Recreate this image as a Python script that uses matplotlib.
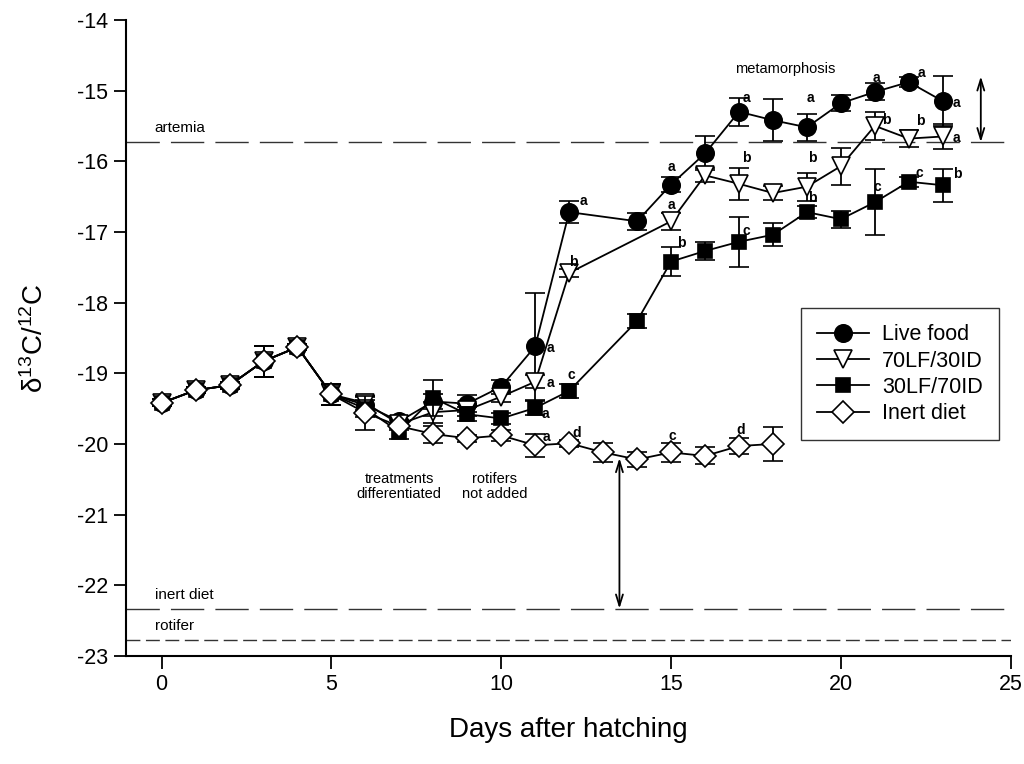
import matplotlib
matplotlib.use("Agg")
import matplotlib.pyplot as plt
from matplotlib.lines import Line2D

plt.rcParams['font.family'] = ['Liberation Sans', 'DejaVu Sans']
plt.rcParams['mathtext.fontset'] = 'custom'
plt.rcParams['mathtext.rm'] = 'Liberation Sans'
plt.rcParams['mathtext.it'] = 'Liberation Sans'
plt.rcParams['axes.unicode_minus'] = False

# ---- data ----
common_days = [0, 1, 2, 3, 4, 5]
common_vals = [-19.42, -19.24, -19.17, -18.83, -18.63, -19.30]
common_err = [0.05, 0.04, 0.05, 0.22, 0.04, 0.15]

live_days = [6, 7, 8, 9, 10, 11, 12, 14, 15, 16, 17, 18, 19, 20, 21, 22, 23]
live_vals = [-19.45, -19.68, -19.40, -19.43, -19.19, -18.62, -16.72, -16.85, -16.33,
             -15.89, -15.30, -15.42, -15.52, -15.18, -15.02, -14.88, -15.15]
live_err = [0.12, 0.08, 0.10, 0.12, 0.10, 0.76, 0.16, 0.12, 0.10,
            0.24, 0.20, 0.30, 0.19, 0.11, 0.12, 0.07, 0.35]

lf70_days = [6, 7, 8, 9, 10, 11, 12, 15, 16, 17, 18, 19, 20, 21, 22, 23]
lf70_vals = [-19.42, -19.72, -19.55, -19.52, -19.33, -19.12, -17.58, -16.85, -16.20,
             -16.32, -16.45, -16.36, -16.07, -15.50, -15.68, -15.65]
lf70_err = [0.10, 0.06, 0.15, 0.08, 0.08, 0.09, 0.06, 0.12, 0.10,
            0.23, 0.10, 0.20, 0.26, 0.20, 0.12, 0.18]

lf30_days = [6, 7, 8, 9, 10, 11, 12, 14, 15, 16, 17, 18, 19, 20, 21, 22, 23]
lf30_vals = [-19.50, -19.83, -19.35, -19.58, -19.64, -19.49, -19.25, -18.26, -17.42,
             -17.27, -17.14, -17.04, -16.72, -16.82, -16.58, -16.29, -16.34]
lf30_err = [0.12, 0.10, 0.25, 0.10, 0.08, 0.10, 0.10, 0.10, 0.21,
            0.13, 0.35, 0.16, 0.08, 0.12, 0.47, 0.07, 0.23]

inert_days = [6, 7, 8, 9, 10, 11, 12, 13, 14, 15, 16, 17, 18]
inert_vals = [-19.56, -19.75, -19.86, -19.92, -19.88, -20.02, -19.99, -20.12, -20.22,
              -20.12, -20.17, -20.03, -20.00]
inert_err = [0.24, 0.05, 0.12, 0.05, 0.08, 0.16, 0.05, 0.13, 0.11,
             0.13, 0.12, 0.11, 0.24]

series_names = ['Live food', '70LF/30ID', '30LF/70ID', 'Inert diet']

ref_names = ['artemia', 'inert diet', 'rotifer']
ref_vals = [-15.73, -22.33, -22.78]

letters = ['a', 'b', 'a', 'a', 'a', 'c', 'a', 'd', 'a', 'a', 'b', 'b', 'a', 'c',
           'a', 'b', 'b', 'a', 'b', 'c', 'a', 'b', 'c', 'a', 'a', 'b', 'c', 'd']
letter_x = [12.43, 12.13, 11.46, 11.46, 11.31, 12.07, 11.34, 12.22, 15.01, 15.01, 15.31,
            17.22, 17.22, 17.22, 19.10, 19.15, 19.15, 21.06, 21.33, 21.06, 22.36, 22.33,
            22.30, 23.41, 23.41, 23.44, 15.04, 17.04]
letter_y = [-16.56, -17.42, -18.64, -19.14, -19.58, -19.02, -19.90, -19.84, -16.08, -16.62,
            -17.16, -15.95, -15.10, -16.99, -15.10, -15.95, -16.52, -14.82, -15.42, -16.36,
            -14.75, -15.43, -16.17, -15.17, -15.67, -16.18, -19.89, -19.80]

# ---- figure ----
fig = plt.figure(figsize=(10.24, 7.64), dpi=100)
ax = fig.add_axes([0.123, 0.1414, 0.864, 0.8326])

styles = [
    dict(marker='o', mfc='black', ms=12.5),
    dict(marker='v', mfc='white', ms=13),
    dict(marker='s', mfc='black', ms=10.5),
    dict(marker='D', mfc='white', ms=11.5),
]
all_days = [live_days, lf70_days, lf30_days, inert_days]
all_vals = [live_vals, lf70_vals, lf30_vals, inert_vals]
all_err = [live_err, lf70_err, lf30_err, inert_err]

handles = []
for i, (d, v, e, st, name) in enumerate(zip(all_days, all_vals, all_err, styles, series_names)):
    x = common_days + d
    y = common_vals + v
    err = common_err + e
    ax.errorbar(x, y, yerr=err, color='black', lw=1.3, elinewidth=1.3,
                capsize=7.5, capthick=1.3, mec='black', mew=1.2,
                zorder=3 + i, **st)
    handles.append(Line2D([], [], color='black', lw=1.3, mec='black', mew=1.2,
                          label=name, **st))

dash_styles = [(0, (24, 8)), (0, (24, 8)), (0, (10, 4))]
for name, val, ds in zip(ref_names, ref_vals, dash_styles):
    ax.axhline(val, color='#333333', lw=1.0, ls=ds, zorder=1)
    ax.text(-0.2, val + 0.1, name, fontsize=11, ha='left', va='bottom')

for t, x, y in zip(letters, letter_x, letter_y):
    ax.text(x, y, t, fontsize=10, fontweight='bold', ha='center', va='center', zorder=10)

ax.text(18.36, -14.69, 'metamorphosis', fontsize=10.5, ha='center', va='center')
ax.text(7.0, -20.6, 'treatments\ndifferentiated', fontsize=10.5, ha='center',
        va='center', linespacing=1.1)
ax.text(9.8, -20.6, 'rotifers\nnot added', fontsize=10.5, ha='center',
        va='center', linespacing=1.1)

arrow_kw = dict(arrowstyle='<->,head_length=0.8,head_width=0.25', color='black', lw=1.3,
                shrinkA=0, shrinkB=0)
ax.annotate('', xy=(24.12, -14.8), xytext=(24.12, -15.73), arrowprops=arrow_kw)
ax.annotate('', xy=(13.48, -20.2), xytext=(13.48, -22.33), arrowprops=arrow_kw)

ax.set_xlim(-1.05, 25)
ax.set_ylim(-23, -14)
ax.set_xticks(range(0, 26, 5))
ax.set_yticks(range(-23, -13))
ax.spines['top'].set_visible(False)
ax.spines['right'].set_visible(False)
for s in ['left', 'bottom']:
    ax.spines[s].set_linewidth(1.5)
ax.tick_params(axis='both', direction='out', length=9, width=1.3, labelsize=15.5, pad=4)

ax.set_xlabel('Days after hatching', fontsize=20, labelpad=16)
ax.set_ylabel(r'$\mathregular{\delta^{13}C/^{12}C}$', fontsize=20, labelpad=20)

leg = ax.legend(handles=handles, loc='upper left', bbox_to_anchor=(0.763, 0.547),
                fontsize=15.5, frameon=True, fancybox=False, edgecolor='black',
                handlelength=2.4, handletextpad=0.6, labelspacing=0.25, borderpad=0.75,
                borderaxespad=0)
leg.get_frame().set_linewidth(1.0)

fig.savefig('out.png', dpi=100)
